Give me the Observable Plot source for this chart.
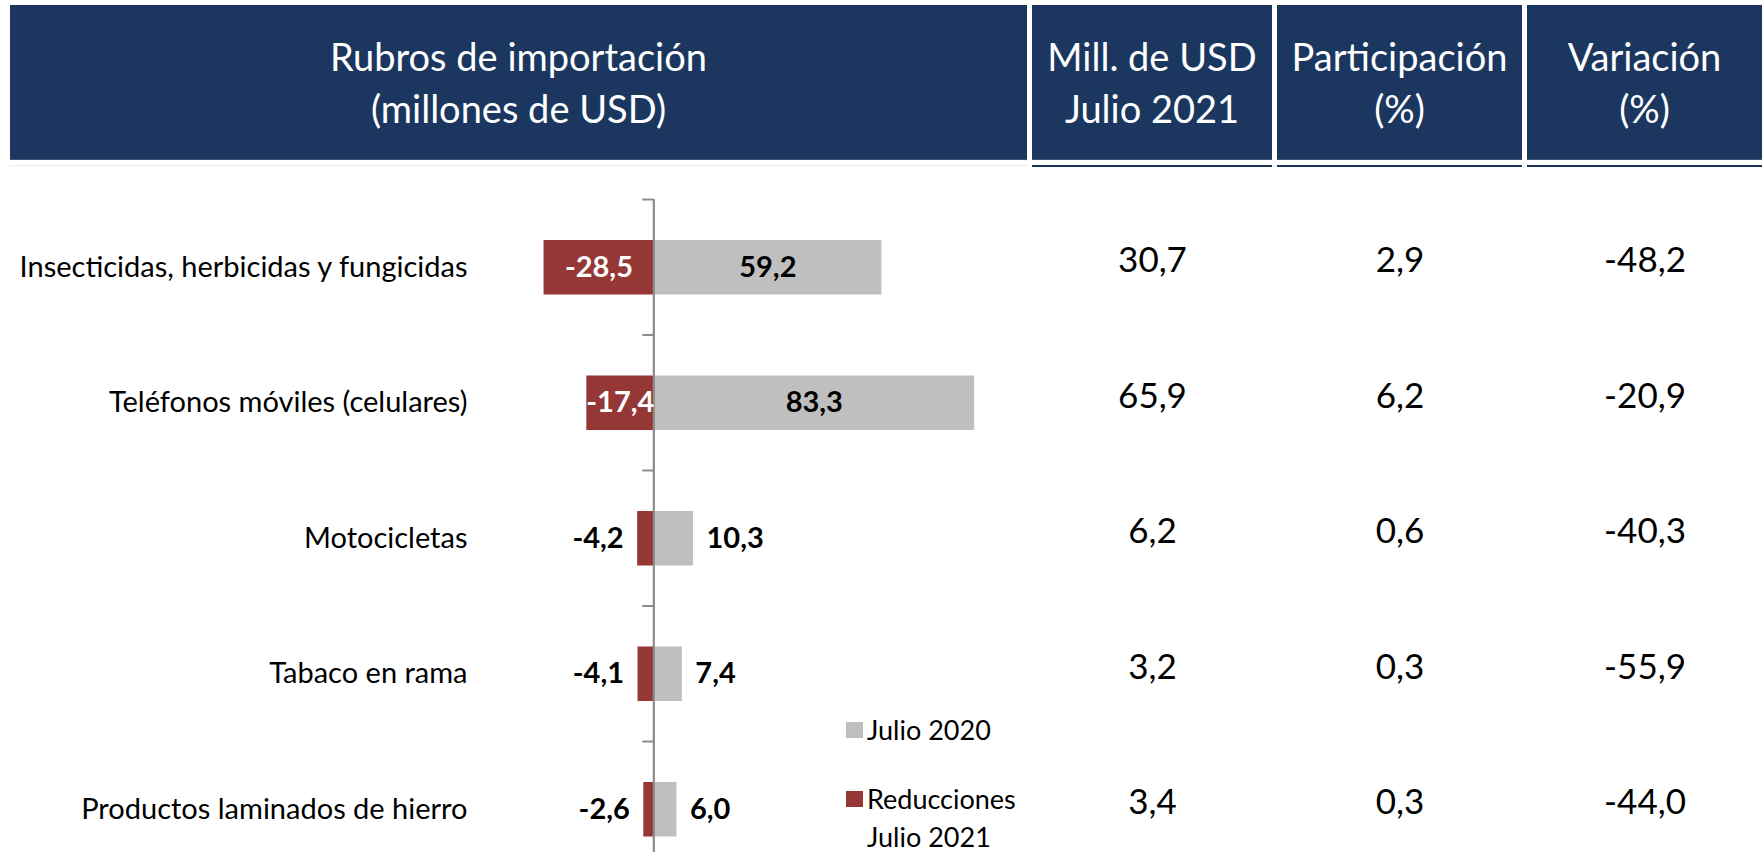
<!DOCTYPE html>
<html><head><meta charset="utf-8">
<script src="https://cdn.jsdelivr.net/npm/d3@7"></script>
<script src="https://cdn.jsdelivr.net/npm/@observablehq/plot@0.6"></script>
<style>
html,body{margin:0;padding:0;background:#fff;overflow:hidden;width:1762px;height:852px;font-family:Lato,"Open Sans",sans-serif;}
#root{position:relative;width:1762px;height:852px;overflow:hidden;}
.hd{position:absolute;top:5px;height:154px;background:#1b375f;color:#fff;display:flex;align-items:center;justify-content:center;text-align:center;font-size:38px;line-height:52px;border-bottom:1px solid #3f5475;}
.ul{position:absolute;top:165px;height:2px;background:#1b375f;}
.abs{position:absolute;}
.legtxt{position:absolute;font-size:27px;color:#000;line-height:38px;white-space:nowrap;}
.sw{position:absolute;width:17px;height:16px;}
</style></head><body><div id="root"></div>
<script>
// ---- data ----
const categories = [
  "Insecticidas, herbicidas y fungicidas",
  "Teléfonos móviles (celulares)",
  "Motocicletas",
  "Tabaco en rama",
  "Productos laminados de hierro"
];
const julio2020 = [59.2, 83.3, 10.3, 7.4, 6.0];
const reducciones2021 = [-28.5, -17.4, -4.2, -4.1, -2.6];
const millUSD2021 = [30.7, 65.9, 6.2, 3.2, 3.4];
const participacion = [2.9, 6.2, 0.6, 0.3, 0.3];
const variacion = [-48.2, -20.9, -40.3, -55.9, -44.0];
const headerTitles = [
  ["Rubros de importación", "(millones de USD)"],
  ["Mill. de USD", "Julio 2021"],
  ["Participación", "(%)"],
  ["Variación", "(%)"]
];
const legendLabels = ["Julio 2020", "Reducciones\nJulio 2021"];

// ---- styles ----
const NAVY = "#1b375f", GRAY = "#bfbfbf", RED = "#953735", AXIS = "#8c8c8c";
const fmt = v => v.toFixed(1).replace(".", ",");
const root = document.getElementById("root");

// header boxes
const boxes = [[10, 1017], [1032, 240], [1277, 245], [1527, 235]];
headerTitles.forEach((t, k) => {
  const d = document.createElement("div");
  d.className = "hd";
  d.style.left = boxes[k][0] + "px";
  d.style.width = boxes[k][1] + "px";
  d.innerHTML = t.join("<br>");
  root.appendChild(d);
  const u = document.createElement("div");
  u.className = "ul";
  u.style.left = boxes[k][0] + "px";
  u.style.width = boxes[k][1] + "px";
  if (k === 0) { u.style.background = "#ebebeb"; u.style.height = "1px"; }
  root.appendChild(u);
});

const rows = categories.map((c, i) => ({
  cat: c, i, pos: julio2020[i], neg: reducciones2021[i],
  mill: millUSD2021[i], part: participacion[i], vari: variacion[i]
}));

const H = 710, MT = 29, MB = 3.5, TOP = 170;
const yScale = {domain: [0, categories.length], reverse: true, axis: null};
const mid = d => d.i + 0.5;
const common = {fontFamily: "Lato, 'Open Sans', sans-serif", color: "#000", background: "transparent", overflow: "visible"};

const chart = Plot.plot({
  width: 1028, height: H, marginTop: MT, marginBottom: MB, marginLeft: 480, marginRight: 28,
  style: common,
  x: {domain: [-45, 90], axis: null},
  y: yScale,
  marks: [
    Plot.rect(rows, {x1: 0, x2: "pos", y1: "i", y2: d => d.i + 1, insetTop: 41, insetBottom: 40, fill: GRAY}),
    Plot.rect(rows, {x1: "neg", x2: 0, y1: "i", y2: d => d.i + 1, insetTop: 41, insetBottom: 40, fill: RED}),
    Plot.ruleX([0], {stroke: AXIS, strokeWidth: 2.2}),
    Plot.ruleY(d3.range(categories.length + 1), {y: d => d, x1: 0, x2: 0, insetLeft: -11, stroke: AXIS, strokeWidth: 2}),
    Plot.axisY(rows.map(mid), {tickFormat: d => categories[Math.floor(d)], tickSize: 0, tickPadding: 13, fontSize: 29, anchor: "left", fill: "#000", label: null}),
    // value labels
    Plot.text(rows, {filter: d => d.pos >= 15, x: d => d.pos / 2, y: mid, text: d => fmt(d.pos), fill: "#000", fontWeight: "bold", fontSize: 29}),
    Plot.text(rows, {filter: d => d.pos < 15, x: "pos", y: mid, text: d => fmt(d.pos), textAnchor: "start", dx: 13, fill: "#000", fontWeight: "bold", fontSize: 29}),
    Plot.text(rows, {filter: d => d.neg <= -15, x: d => d.neg / 2, y: mid, text: d => fmt(d.neg), fill: "#fff", fontWeight: "bold", fontSize: 29}),
    Plot.text(rows, {filter: d => d.neg > -15, x: "neg", y: mid, text: d => fmt(d.neg), textAnchor: "end", dx: -14, fill: "#000", fontWeight: "bold", fontSize: 29})
  ]
});
chart.classList.add("abs");
chart.style.left = "0px"; chart.style.top = TOP + "px";
root.appendChild(chart);

// table columns
[["mill", 1], ["part", 2], ["vari", 3]].forEach(([key, k]) => {
  const col = Plot.plot({
    width: boxes[k][1], height: H, marginTop: MT, marginBottom: MB, marginLeft: 0, marginRight: 0,
    style: common,
    y: yScale,
    marks: [
      Plot.text(rows, {y: mid, text: d => fmt(d[key]), frameAnchor: "middle", fontSize: 35, dy: -6, fill: "#000"})
    ]
  });
  col.classList.add("abs");
  col.style.left = boxes[k][0] + "px"; col.style.top = TOP + "px";
  root.appendChild(col);
});

// legend
const legItems = [
  {label: legendLabels[0], color: GRAY, swTop: 722, txtTop: 711},
  {label: legendLabels[1], color: RED, swTop: 791, txtTop: 780}
];
legItems.forEach(it => {
  const s = document.createElement("div");
  s.className = "sw"; s.style.left = "846px"; s.style.top = it.swTop + "px"; s.style.background = it.color;
  root.appendChild(s);
  const t = document.createElement("div");
  t.className = "legtxt"; t.style.left = "867px"; t.style.top = it.txtTop + "px";
  t.innerHTML = it.label.replace("\n", "<br>");
  root.appendChild(t);
});
</script></body></html>
